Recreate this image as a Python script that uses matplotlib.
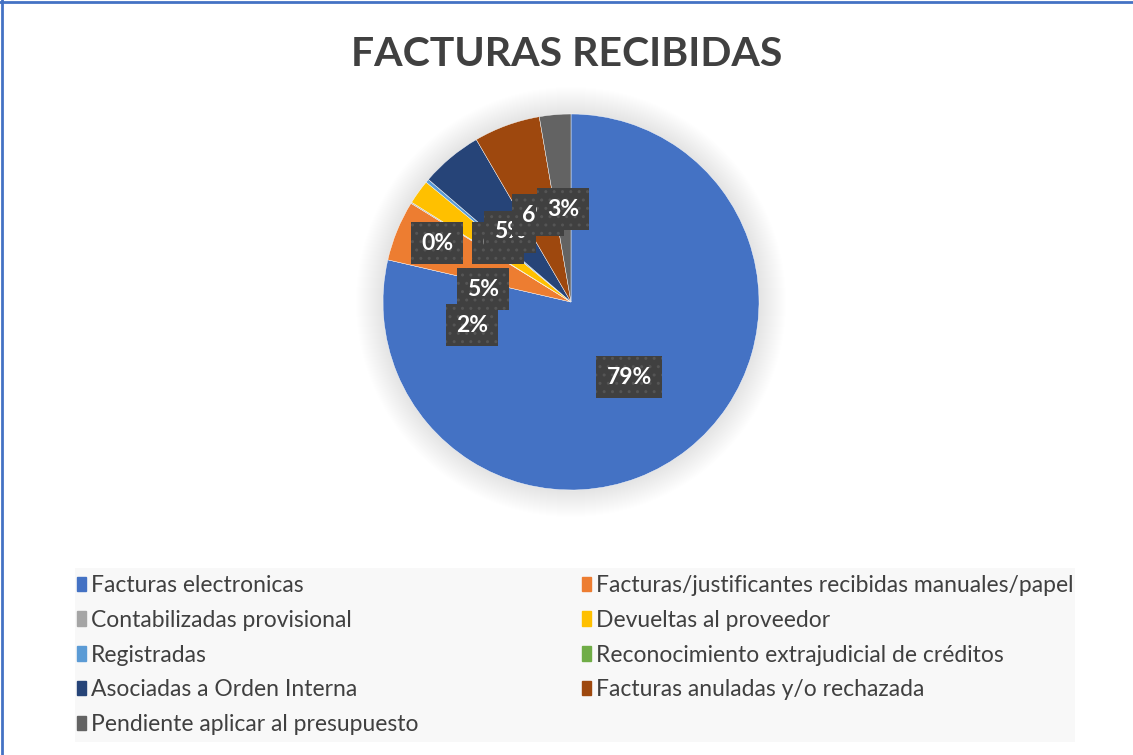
import matplotlib.pyplot as plt
import matplotlib.patches as mpatches

# Datos del gráfico
categorias = [
    "Facturas electronicas",
    "Facturas/justificantes recibidas manuales/papel",
    "Contabilizadas provisional",
    "Devueltas al proveedor",
    "Registradas",
    "Reconocimiento extrajudicial de créditos",
    "Asociadas a Orden Interna",
    "Facturas anuladas y/o rechazada",
    "Pendiente aplicar al presupuesto",
]
porcentajes = [78.6, 5.2, 0.1, 2.1, 0.3, 0.0, 5.3, 5.7, 2.7]
colores = ["#4472C4", "#ED7D31", "#A5A5A5", "#FFC000", "#5B9BD5",
           "#70AD47", "#264478", "#9E480E", "#636363"]

# Posición de las etiquetas (píxeles desde arriba, tal como las colocó Excel)
pos_etiquetas = [(629, 377), (483, 289), (437, 243), (472, 325), (498, 243),
                 (498, 243), (510, 232), (538, 215), (563, 209)]

W, H = 1133, 755
fig = plt.figure(figsize=(W / 100, H / 100), dpi=100)
ax = fig.add_axes([0, 0, 1, 1])

fuente = "Lato"
cx, cy, R = 571, H - 302, 188

# Sombra difusa alrededor de la tarta
for k in range(1, 28):
    ax.add_patch(mpatches.Circle((cx, cy), R + k, color="black", alpha=0.0045,
                                 lw=0, zorder=1))

wedges, _ = ax.pie(porcentajes, colors=colores, startangle=90, counterclock=False,
                   center=(cx, cy), radius=R, frame=True,
                   wedgeprops=dict(edgecolor="white", linewidth=0.3, zorder=2))
ax.set_xlim(0, W)
ax.set_ylim(0, H)
ax.set_aspect("equal")
ax.axis("off")

total = sum(porcentajes)
for v, (x, y) in zip(porcentajes, pos_etiquetas):
    ax.text(x, H - y, f"{v / total * 100:.0f}%", ha="center", va="center",
            color="white", fontsize=16.5, fontweight="bold", family=fuente, zorder=5,
            bbox=dict(boxstyle="square,pad=0.45", fc="#404040", ec="#555555",
                      lw=0, hatch=".."))

# Título
fig.text(0.5, 1 - 55 / H, "FACTURAS RECIBIDAS", ha="center", va="center",
         fontsize=29.5, fontweight="bold", color="#404040", family=fuente)

# Fondo de la leyenda
ax.add_patch(mpatches.Rectangle((75, H - 742), 1000, 174, color="#F8F8F8", lw=0, zorder=0))

handles = [mpatches.Patch(color=c, label=l) for c, l in zip(colores, categorias)]
ley_kw = dict(frameon=False, handlelength=0.4, handleheight=0.6,
              handletextpad=0.2, labelspacing=0.6, borderaxespad=0, borderpad=0,
              prop=dict(family=fuente, size=16.5), labelcolor="#404040")
ley1 = fig.legend(handles=handles[0::2], loc="upper left",
                  bbox_to_anchor=(77 / W, 1 - 575 / H), **ley_kw)
ley2 = fig.legend(handles=handles[1::2], loc="upper left",
                  bbox_to_anchor=(582 / W, 1 - 575 / H), **ley_kw)

# Borde azul superior e izquierdo
fig.add_artist(plt.Line2D([0.002, 0.002], [0, 1], color="#4472C4", lw=2))
fig.add_artist(plt.Line2D([0, 1], [0.997, 0.997], color="#4472C4", lw=2))

fig.savefig("out.png", dpi=100)
